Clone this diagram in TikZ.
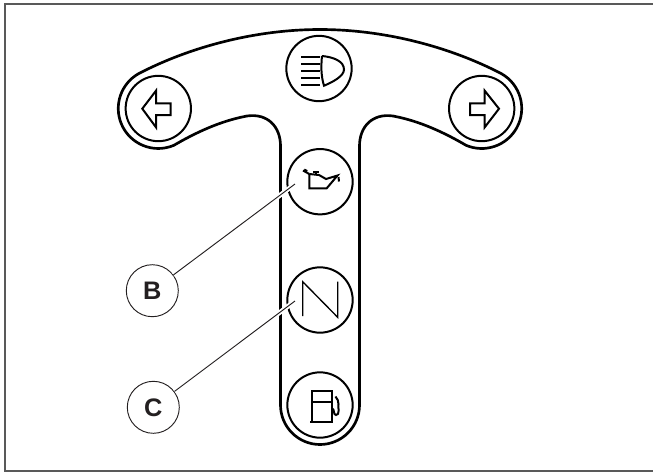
\documentclass[tikz,border=0pt]{standalone}
\usepackage{fontspec}
\setsansfont{Liberation Sans}
\definecolor{inkdark}{HTML}{231F20}
\tikzset{
  gauge/.style={draw, circle, line width=1.5pt, minimum size=49pt, inner sep=0pt},
  callout/.style={draw=inkdark, circle, line width=0.7pt, minimum size=39pt, inner sep=0pt,
    text=inkdark, font=\sffamily\bfseries\fontsize{19}{19}\selectfont},
  leader/.style={draw=inkdark, line width=0.7pt, preaction={draw=white, line width=3.5pt}},
  glyph/.style={line width=1.5pt, line join=miter},
  outline/.style={line width=2pt}
}
\begin{document}
\begin{tikzpicture}[x=0.75pt, y=-0.75pt]
\useasboundingbox (0,0) rectangle (653,472);

% Page frame
\draw[line width=1pt, black!65] (653,471) -- (5,471) -- (5,4) -- (653,4);

% T shaped panel
\draw[outline] (138.9,73.5)
  .. controls (190,47) and (255,29.5) .. (320,29.5)
  .. controls (385,29.5) and (450,47) .. (501.1,73.5)
  arc (-61:113:40)
  .. controls (445,133) and (420,121) .. (393,116)
  .. controls (372,113) and (359.5,127) .. (359.5,146)
  -- (359.5,405)
  arc (0:180:39.5)
  -- (280.5,146)
  .. controls (280.5,127) and (268,113) .. (247,116)
  .. controls (220,121) and (195,133) .. (173.9,145.3)
  arc (67:241:40)
  -- cycle;

% Gauges
\node[gauge] (leftlamp) at (158.3,108.5) {};
\node[gauge] (headlamp) at (319,68.5) {};
\node[gauge] (rightlamp) at (481.7,108.5) {};
\node[gauge] (oillamp) at (320,181.7) {};
\node[gauge] (neutrallamp) at (320,300) {};
\node[gauge] (fuellamp) at (320,405) {};

% Left arrow
\draw[glyph] (142.3,108.7) -- (156,90.7) -- (156,103.3) -- (170.7,103.3) -- (170.7,115)
  -- (156,115) -- (156,127.3) -- cycle;

% Right arrow
\draw[glyph] (499,108.7) -- (484.7,90.7) -- (484.7,103.3) -- (470,103.3) -- (470,115)
  -- (484.7,115) -- (484.7,127.3) -- cycle;

% Headlamp beams
\foreach \y in {56.7,64,71,78.3,85.3}
  \draw[glyph] (301,\y) -- (320,\y);
\draw[glyph] (322,56) .. controls (333,57) and (344,61) .. (344,69.5)
  .. controls (344,76) and (333,82) .. (324,85.7)
  .. controls (321,76) and (321,66) .. (322,56);

% Oil can
\draw[glyph] (309.3,174) -- (309.3,188.3) -- (326.7,188.3) -- (337.5,175.5) -- (326,179)
  -- (319,175) -- (309.3,174);
\draw[glyph] (303,170.5) -- (309.3,174);
\draw[line width=2.2pt] (304,170) -- (307,171.5);
\draw[glyph] (313,171.5) -- (319,171.5) (316,171.5) -- (316,175);
\draw[glyph] (338.5,177) -- (339,181.5);

% Letter N
\draw[line width=1pt] (302.7,316) -- (302.7,281.7) -- (337.7,317.3) -- (337.7,281.7);

% Fuel pump
\draw[glyph] (311.7,421) -- (311.7,390.7) -- (331.7,390.7) -- (331.7,421)
  (311.7,401.7) -- (331.7,401.7);
\draw[glyph] (310,421.5) -- (333.3,421.5);
\draw[glyph] (331.7,408) .. controls (335,409) and (333,415) .. (336,415)
  .. controls (340,415) and (338,408) .. (338.5,404)
  .. controls (339,401) and (337,399) .. (335.5,396.5);

% Callouts
\node[callout] (labelB) at (152.3,290.7) {B};
\node[callout] (labelC) at (153.3,407.3) {C};
\coordinate (oiltip) at (295,184);
\coordinate (neutraltip) at (295,301);
\draw[leader] (labelB) -- (oiltip);
\draw[leader] (labelC) -- (neutraltip);

\end{tikzpicture}
\end{document}
